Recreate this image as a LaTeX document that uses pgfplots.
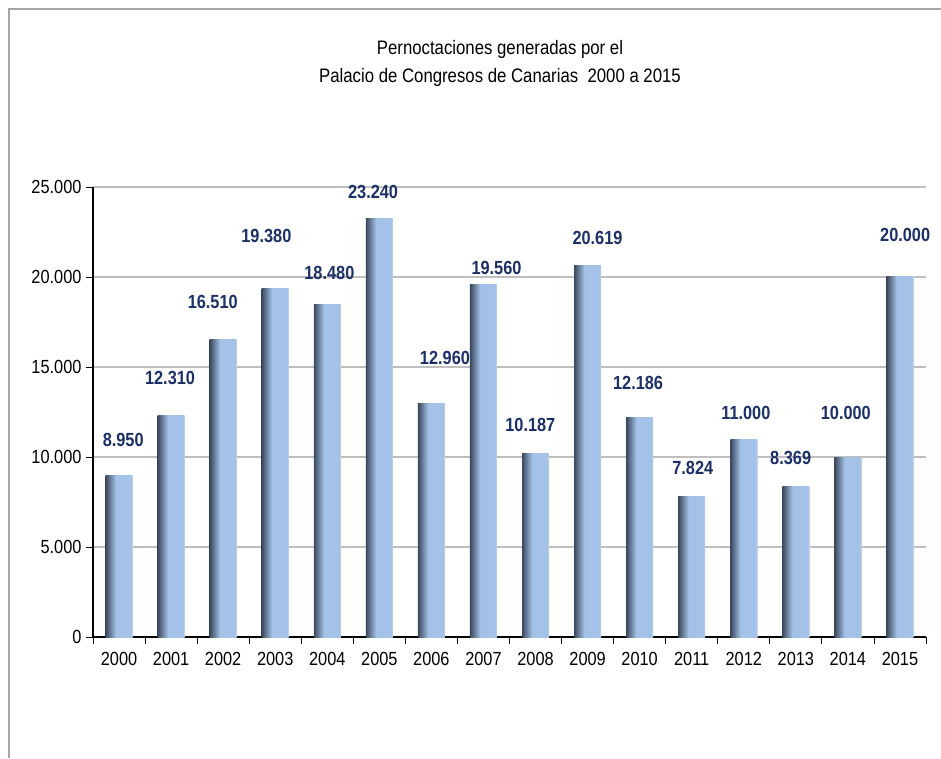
\documentclass[border=0pt]{standalone}
\usepackage{pgfplots}
\pgfplotsset{compat=1.18}
\usepackage{pgfplotstable}
\usepackage{fontspec}
\setmainfont{Liberation Sans}[FakeStretch=0.86]

\definecolor{bdark}{RGB}{58,72,92}
\definecolor{blight}{RGB}{164,194,232}
\definecolor{bedge}{RGB}{196,214,238}
\definecolor{lblue}{RGB}{28,48,104}
\definecolor{gridc}{RGB}{190,190,190}
\definecolor{framec}{RGB}{165,165,165}

\pgfdeclarehorizontalshading{barshade}{100bp}{color(0bp)=(bdark); color(25bp)=(bdark); color(44bp)=(blight); color(72bp)=(blight); color(75bp)=(bedge); color(100bp)=(bedge)}

% valores (pernoctaciones por ano)
\pgfplotstableread{
x y
0 8950
1 12310
2 16510
3 19380
4 18480
5 23240
6 12960
7 19560
8 10187
9 20619
10 12186
11 7824
12 11000
13 8369
14 10000
15 20000
}\bars

% posicion de las etiquetas
\pgfplotstableread{
x y label
0.08 10944 8.950
0.98 14389 12.310
1.80 18611 16.510
2.83 22278 19.380
4.04 20222 18.480
4.88 24722 23.240
6.26 15500 12.960
7.25 20500 19.560
7.90 11778 10.187
9.19 22167 20.619
9.97 14111 12.186
11.02 9389 7.824
12.04 12444 11.000
12.90 9944 8.369
13.96 12444 10.000
15.10 22333 20.000
}\labels

\begin{document}
\begin{tikzpicture}
\useasboundingbox (0,0) rectangle (941pt,758pt);
\draw[framec, line width=1.2pt] (9pt,0pt) -- (9pt,749pt) -- (941pt,749pt);
\node[align=center, font=\fontsize{19.5}{28}\selectfont] at (500pt,695pt)
  {Pernoctaciones generadas por el\\Palacio de Congresos de Canarias\ \ 2000 a 2015};
\begin{axis}[
    at={(93pt,121pt)}, anchor=south west,
    scale only axis,
    width=833pt, height=450pt,
    xmin=-0.5, xmax=15.5,
    ymin=0, ymax=25000,
    axis lines*=left,
    axis line style={black, line width=1.3pt},
    xtick={0,...,15},
    xticklabels={2000,2001,2002,2003,2004,2005,2006,2007,2008,2009,2010,2011,2012,2013,2014,2015},
    minor xtick={-0.5,0.5,...,15.5},
    major x tick style={draw=none},
    minor x tick style={black, line width=0.8pt},
    minor tick length=7pt,
    ytick={0,5000,10000,15000,20000,25000},
    yticklabels={0,5.000,10.000,15.000,20.000,25.000},
    scaled y ticks=false,
    major y tick style={black, line width=0.8pt},
    major tick length=7pt,
    tick align=outside,
    ymajorgrids,
    major grid style={gridc, line width=1.8pt},
    tick label style={font=\fontsize{19}{21}\selectfont},
    /pgf/number format/assume math mode=true,
    xticklabel style={yshift=-5pt},
    yticklabel style={xshift=-1pt},
    clip=false,
]
\pgfplotsinvokeforeach{0,...,15}{
  \addplot[ybar, bar width=27pt, draw=none, shading=barshade,
    restrict expr to domain={\coordindex}{#1:#1}] table[x=x, y=y] {\bars};
}
\addplot[draw=none, mark=none,
    nodes near coords, point meta=explicit symbolic,
    nodes near coords align=center,
    every node near coord/.append style={text=lblue, font=\fontsize{19}{22}\selectfont\bfseries}]
    table[x=x, y=y, meta=label] {\labels};
\end{axis}
\end{tikzpicture}
\end{document}
